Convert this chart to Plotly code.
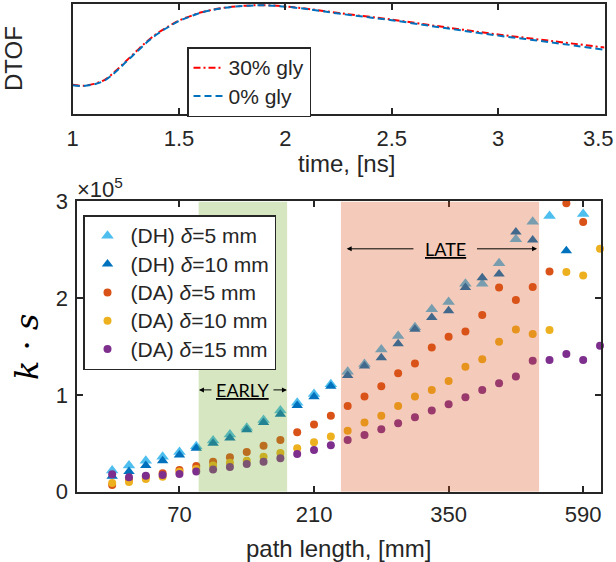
import plotly.graph_objects as go

W, H = 616, 562

# ── top panel: DTOF curves (normalised, arbitrary units) ──────────────────────
t_ns = [1.0, 1.05, 1.1, 1.15, 1.2, 1.25, 1.3, 1.35, 1.4, 1.45, 1.5, 1.55, 1.6,
        1.7, 1.8, 1.9, 2.0, 2.1, 2.25, 2.5, 2.75, 3.0, 3.25, 3.5]
dtof_30 = [0.265, 0.257, 0.274, 0.31, 0.388, 0.48, 0.572, 0.662, 0.737, 0.797,
           0.85, 0.887, 0.922, 0.962, 0.983, 0.989, 0.978, 0.957, 0.918, 0.858,
           0.789, 0.723, 0.664, 0.604]
dtof_0 = [0.262, 0.255, 0.27, 0.305, 0.38, 0.472, 0.563, 0.654, 0.73, 0.791,
          0.846, 0.884, 0.92, 0.961, 0.982, 0.988, 0.976, 0.954, 0.913, 0.852,
          0.781, 0.713, 0.651, 0.584]
t_ticks = [1, 1.5, 2, 2.5, 3, 3.5]
t_labels = ["1", "1.5", "2", "2.5", "3", ""]  # "3.5" sits at the page edge, drawn below

# ── bottom panel: k*s (x1e5) against path-length bin ─────────────────────────
bin_idx = list(range(30))
tick_pos = [4, 12, 20, 28]
tick_txt = ["70", "210", "350", "590"]

dh_5 = [0.22, 0.27, 0.32, 0.36, 0.41, 0.47, 0.53, 0.59, 0.66, 0.74, 0.84, 0.92,
        1.01, 1.11, 1.24, 1.32, 1.47, 1.61, 1.70, 1.885, 1.96, 2.15, 2.15, 2.36,
        2.61, 2.79, 2.85, None, 2.87, None]
dh_10 = [0.16, 0.21, 0.27, 0.32, 0.38, 0.45, 0.50, 0.555, 0.64, 0.715, 0.80, 0.89,
         0.98, 1.09, 1.20, 1.30, 1.385, 1.53, 1.68, 1.80, 1.87, 2.11, 2.21, 2.25,
         2.685, 2.60, None, 2.49, None, None]
da_5 = [0.07, 0.12, 0.155, 0.19, 0.225, 0.265, 0.31, 0.355, 0.41, 0.475, 0.535,
        0.615, 0.695, 0.785, 0.885, 0.983, 1.09, 1.225, 1.325, 1.49, 1.60, 1.655,
        1.825, 2.11, 1.98, 2.115, 2.275, 2.98, 2.786, None]
da_10 = [0.09, 0.10, 0.13, 0.155, 0.205, 0.235, 0.27, 0.30, 0.32, 0.36, 0.40,
         0.45, 0.51, 0.57, 0.63, 0.714, 0.785, 0.885, 0.985, 1.05, 1.145, 1.29,
         1.37, 1.55, 1.675, 1.63, 1.672, 2.27, 2.234, 2.51]
da_15 = [0.18, 0.15, 0.165, 0.172, 0.183, 0.21, 0.23, 0.255, 0.285, 0.31, 0.345,
         0.39, 0.43, 0.48, 0.535, 0.586, 0.645, 0.707, 0.77, 0.84, 0.905, 0.975,
         1.05, 1.12, 1.19, 1.352, 1.362, 1.424, 1.362, 1.507]

early_win = [5.14, 10.4]
late_win = [13.6, 25.38]

FONT = "Liberation Sans, Arial, sans-serif"
AX = "#262626"


def px_x(p):
    return p / W


def px_y(p):
    return 1 - p / H


def big(s):
    # legend rows are sized from the legend font; draw the text a bit larger
    return f'<span style="font-size:21px">{s}</span>'


fig = go.Figure()

fig.add_trace(go.Scatter(
    x=t_ns, y=dtof_30, mode="lines", name=big("30% gly"),
    line=dict(color="#FF0000", width=2, dash="7px,3px,2px,3px", shape="spline"),
    xaxis="x", yaxis="y", legend="legend",
))
fig.add_trace(go.Scatter(
    x=t_ns, y=dtof_0, mode="lines", name=big("0% gly"),
    line=dict(color="#0072BD", width=2, dash="7px,4px", shape="spline"),
    xaxis="x", yaxis="y", legend="legend",
))

series = [
    ("(DH) <i>δ</i>=5 mm", dh_5, "triangle-up", "#4DBEEE", 11),
    ("(DH) <i>δ</i>=10 mm", dh_10, "triangle-up", "#0072BD", 10),
    ("(DA) <i>δ</i>=5 mm", da_5, "circle", "#D95319", 8),
    ("(DA) <i>δ</i>=10 mm", da_10, "circle", "#EDB120", 8),
    ("(DA) <i>δ</i>=15 mm", da_15, "circle", "#7E2F8E", 8),
]
for name, vals, sym, col, size in series:
    fig.add_trace(go.Scatter(
        x=bin_idx, y=vals, mode="markers", name=big(name),
        marker=dict(symbol=sym, color=col, size=size, line_width=0),
        xaxis="x2", yaxis="y2", legend="legend2", cliponaxis=False,
    ))

# shaded windows (drawn over the markers, like the MATLAB patches)
for win, col in [(early_win, "rgb(119,172,48)"), (late_win, "rgb(217,83,25)")]:
    fig.add_shape(type="rect", xref="x2", yref="y2", x0=win[0], x1=win[1],
                  y0=0, y1=3, fillcolor=col, opacity=0.3, line_width=0,
                  layer="above")

# EARLY / LATE labels with arrows
lab_font = dict(family="Lato, Carlito, sans-serif", size=18, color="black")
fig.add_annotation(x=7.77, y=1.052, xref="x2", yref="y2", text="<u>EARLY</u>",
                   showarrow=False, font=lab_font)
fig.add_annotation(x=19.8, y=2.51, xref="x2", yref="y2", text="<u>LATE</u>",
                   showarrow=False, font=lab_font)
for tail, head, yv in [(5.99, 5.16, 1.052), (9.5, 10.39, 1.052),
                       (18.0, 13.94, 2.51), (21.6, 25.26, 2.51)]:
    fig.add_annotation(x=head, y=yv, ax=tail, ay=yv, xref="x2", yref="y2",
                       axref="x2", ayref="y2", text="", showarrow=True,
                       arrowhead=2, arrowsize=1, arrowwidth=1, arrowcolor="black")

# axis titles and exponent label
txt = dict(family=FONT, color=AX)
pin = dict(xref="paper", yref="paper", showarrow=False,
           xanchor="center", yanchor="middle")
fig.add_annotation(**pin, x=px_x(13), y=px_y(59), text="DTOF", textangle=-90,
                   font=dict(**txt, size=24))
fig.add_annotation(**pin, x=px_x(346), y=px_y(164), text="time, [ns]",
                   font=dict(**txt, size=24))
fig.add_annotation(**pin, x=px_x(338), y=px_y(548), text="path length, [mm]",
                   font=dict(**txt, size=24))
fig.add_annotation(**pin, x=px_x(27), y=px_y(347), text="<i>k</i> · <i>s</i>",
                   textangle=-90,
                   font=dict(family="DejaVu Serif, serif", size=32, color="black"))
fig.add_annotation(xref="paper", yref="paper", showarrow=False,
                   xanchor="right", yanchor="middle", x=1, y=px_y(138),
                   text="3.5", font=dict(**txt, size=22))
fig.add_annotation(xref="paper", yref="paper", showarrow=False,
                   xanchor="left", yanchor="middle", x=px_x(75), y=px_y(188),
                   text="×10<sup>5</sup>", font=dict(**txt, size=22))

axis_common = dict(showline=True, linecolor=AX, linewidth=2, mirror="ticks",
                   ticks="inside", ticklen=6, tickwidth=1.5, tickcolor=AX,
                   showgrid=False, zeroline=False, automargin=False,
                   tickfont=dict(family=FONT, size=22, color=AX))

leg_common = dict(xanchor="left", yanchor="top", bgcolor="white",
                  bordercolor=AX, borderwidth=1.5,
                  font=dict(family=FONT, size=19.5, color=AX))

fig.update_layout(
    width=W, height=H,
    margin=dict(l=0, r=0, t=0, b=0),
    paper_bgcolor="white", plot_bgcolor="white",
    font=dict(family=FONT, color=AX),
    xaxis=dict(**axis_common, domain=[px_x(72.7), px_x(604.5)], range=[1, 3.5],
               tickvals=t_ticks, ticktext=t_labels, anchor="y",
               ticklabelstandoff=4),
    yaxis=dict(**{**axis_common, "ticks": ""}, domain=[px_y(114), px_y(4)],
               range=[0, 1], showticklabels=False, anchor="x"),
    xaxis2=dict(**axis_common, domain=[px_x(76.5), px_x(601)],
                range=[-2.12, 29.06], tickvals=tick_pos, ticktext=tick_txt,
                anchor="y2", ticklabelstandoff=2),
    yaxis2=dict(**axis_common, domain=[px_y(491.7), px_y(201.4)],
                range=[0, 3], tickvals=[0, 1, 2, 3], anchor="x2",
                ticklabelstandoff=2),
    legend=dict(**leg_common, x=px_x(187), y=px_y(47)),
    legend2=dict(**leg_common, x=px_x(83), y=px_y(215), itemwidth=36),
)

fig.write_html(
    "out.html",
    config={"displayModeBar": False},
    post_script="document.body.style.margin='0';document.body.style.overflow='hidden';",
)
